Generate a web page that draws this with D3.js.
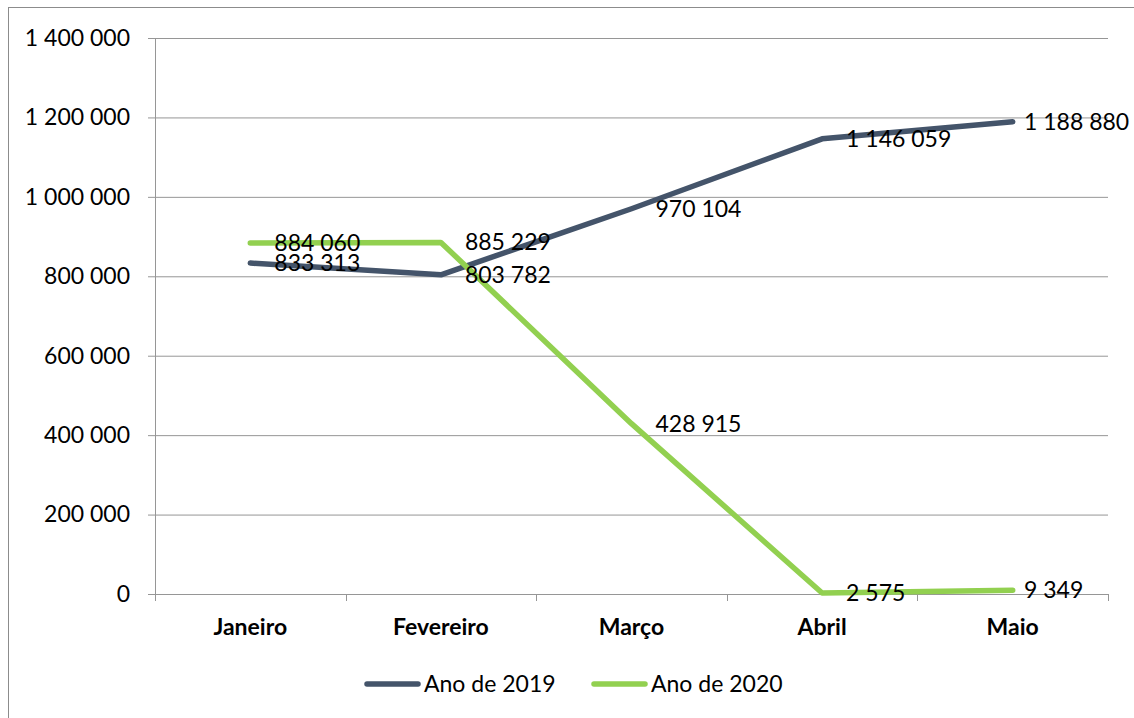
<!DOCTYPE html>
<html>
<head>
<meta charset="utf-8">
<script src="https://cdn.jsdelivr.net/npm/d3@7"></script>
<style>
  html, body { margin: 0; padding: 0; background: #fff; }
  svg { display: block; font-family: Lato, "Open Sans", sans-serif; }
</style>
</head>
<body>
<svg id="chart" width="1134" height="718"></svg>
<script>
// Monthly totals, January to May
const months = ["Janeiro", "Fevereiro", "Março", "Abril", "Maio"];
const values2019 = [833313, 803782, 970104, 1146059, 1188880];
const values2020 = [884060, 885229, 428915, 2575, 9349];
const seriesNames = ["Ano de 2019", "Ano de 2020"];
const yTicks = [0, 200000, 400000, 600000, 800000, 1000000, 1200000, 1400000];

const colors = ["#44546A", "#92D050"];
const fmt = v => d3.format(",")(v).replace(/,/g, " ");

const svg = d3.select("#chart");
const W = 1134, H = 718;
const plot = { left: 155, right: 1108, top: 38, bottom: 594 };

// outer chart frame (extends past the window edge)
svg.append("rect")
  .attr("x", 8.5).attr("y", 7.5)
  .attr("width", W + 10).attr("height", H + 10)
  .attr("fill", "none").attr("stroke", "#8c8c8c").attr("stroke-width", 1);

const x = d3.scaleBand().domain(months).range([plot.left, plot.right]).padding(0);
const y = d3.scaleLinear().domain([0, 1400000]).range([plot.bottom, plot.top]);

// horizontal gridlines + y axis
const yAxis = d3.axisLeft(y).tickValues(yTicks).tickFormat(fmt)
  .tickSize(-(plot.right - plot.left)).tickPadding(25);
const gy = svg.append("g").attr("transform", `translate(${plot.left},0)`).call(yAxis);
gy.select(".domain").remove();
gy.selectAll(".tick line").attr("stroke", "#969696").attr("stroke-width", 1)
  .attr("x1", -7);
gy.selectAll(".tick text").attr("fill", "#000").attr("font-size", 23)
  .attr("font-family", "Lato, sans-serif");

// vertical axis line
svg.append("line")
  .attr("x1", plot.left + 0.5).attr("x2", plot.left + 0.5)
  .attr("y1", plot.top).attr("y2", plot.bottom + 7)
  .attr("stroke", "#969696");

// category axis
const gx = svg.append("g").attr("transform", `translate(0,${plot.bottom})`)
  .call(d3.axisBottom(x).tickSize(0).tickPadding(25));
gx.select(".domain").attr("stroke", "#969696");
gx.selectAll(".tick text").attr("fill", "#000").attr("font-size", 23)
  .attr("font-weight", "bold").attr("font-family", "Lato, sans-serif");
// tick marks between categories
const bounds = months.map(m => x(m)).concat([plot.right]);
svg.append("g").selectAll("line").data(bounds).join("line")
  .attr("x1", d => Math.round(d) + 0.5).attr("x2", d => Math.round(d) + 0.5)
  .attr("y1", plot.bottom).attr("y2", plot.bottom + 7)
  .attr("stroke", "#969696");

// series lines
const cx = m => x(m) + x.bandwidth() / 2;
const line = d3.line().x((d, i) => cx(months[i])).y(d => y(d));
[values2019, values2020].forEach((vals, k) => {
  svg.append("path").datum(vals)
    .attr("d", line)
    .attr("fill", "none")
    .attr("stroke", colors[k])
    .attr("stroke-width", 5.5)
    .attr("stroke-linecap", "round")
    .attr("stroke-linejoin", "round");
});

// data labels, to the right of each point
[values2019, values2020].forEach((vals, k) => {
  svg.append("g").selectAll("text").data(vals).join("text")
    .attr("x", (d, i) => {
      const px = cx(months[i]) + 24;
      return Math.min(px, 1024);
    })
    .attr("y", d => y(d))
    .attr("dy", "0.35em")
    .attr("font-size", 23)
    .attr("fill", "#000")
    .text(d => fmt(d));
});

// legend
const legendItems = [
  { name: seriesNames[0], color: colors[0], x0: 365 },
  { name: seriesNames[1], color: colors[1], x0: 592 }
];
const lg = svg.append("g");
legendItems.forEach(it => {
  lg.append("line")
    .attr("x1", it.x0 + 2).attr("x2", it.x0 + 53)
    .attr("y1", 684).attr("y2", 684)
    .attr("stroke", it.color).attr("stroke-width", 5.5)
    .attr("stroke-linecap", "round");
  lg.append("text")
    .attr("x", it.x0 + 59).attr("y", 684).attr("dy", "0.35em")
    .attr("font-size", 23).attr("fill", "#000")
    .text(it.name);
});
</script>
</body>
</html>
